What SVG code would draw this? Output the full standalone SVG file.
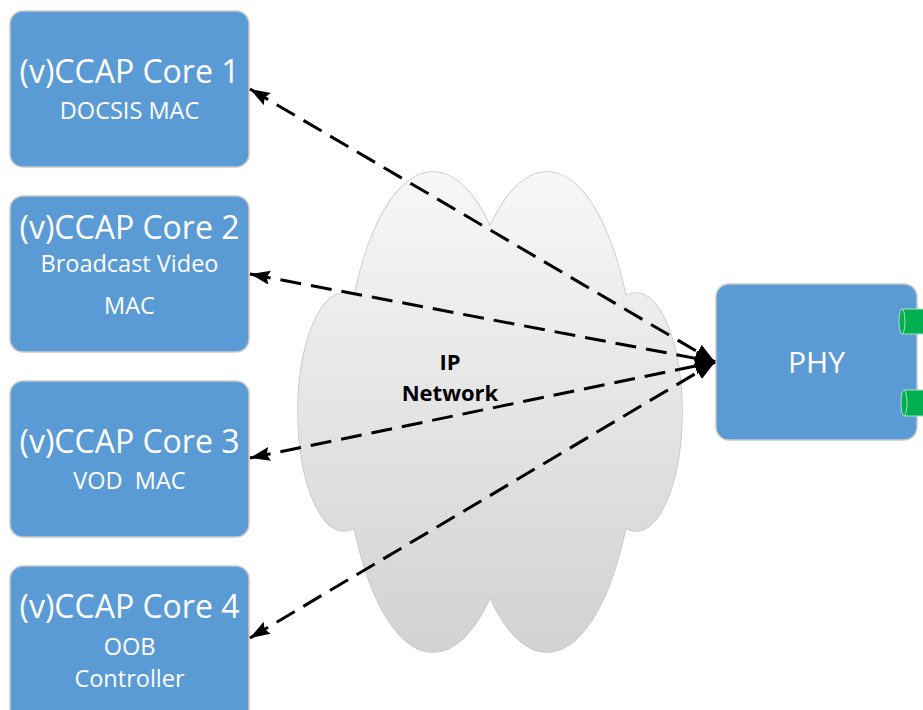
<svg xmlns="http://www.w3.org/2000/svg" width="923" height="710" viewBox="0 0 923 710">
<defs>
<linearGradient id="cloudGrad" gradientUnits="userSpaceOnUse" x1="0" y1="173" x2="0" y2="652">
<stop offset="0" stop-color="#f7f7f7"/>
<stop offset="1" stop-color="#d2d2d2"/>
</linearGradient>
<marker id="arr" markerUnits="userSpaceOnUse" markerWidth="22" markerHeight="16" refX="20" refY="7" orient="auto-start-reverse" viewBox="0 0 22 16">
<path d="M0,0 L20,7 L0,14 L3,7 z" fill="#000"/>
</marker>
<marker id="arrEnd" markerUnits="userSpaceOnUse" markerWidth="22" markerHeight="18" refX="20" refY="8" orient="auto" viewBox="0 0 22 18">
<path d="M0,0 L20,8 L0,16 z" fill="#000"/>
</marker>
<style>
.box{fill:#5b9bd5;stroke:#c9c9c9;stroke-width:1.5}
.title{font-family:"Open Sans","Noto Sans","DejaVu Sans",sans-serif;font-size:32px;fill:#fff;text-anchor:middle}
.sub{font-family:"Open Sans","Noto Sans","DejaVu Sans",sans-serif;font-size:23.5px;fill:#fff;text-anchor:middle}
.conn{fill:none;stroke:#000;stroke-width:3;stroke-dasharray:21 10;marker-start:url(#arr);marker-end:url(#arrEnd)}
.port{fill:#00b050;stroke:#a8e0bc;stroke-width:1}
.cl{fill:none;stroke:#c6c6c6;stroke-width:1.5}
.cf{fill:url(#cloudGrad);stroke:none}
.lbl{font-family:"Open Sans","Noto Sans","DejaVu Sans",sans-serif;font-size:22px;font-weight:bold;fill:#000;text-anchor:middle}
</style>
</defs>
<g id="cloud">
<ellipse class="cl" cx="433" cy="412" rx="90" ry="240"/>
<ellipse class="cl" cx="547" cy="412" rx="90" ry="240"/>
<ellipse class="cl" cx="344" cy="412" rx="46" ry="119"/>
<ellipse class="cl" cx="636" cy="412" rx="46" ry="119"/>
<ellipse class="cf" cx="433" cy="412" rx="90" ry="240"/>
<ellipse class="cf" cx="547" cy="412" rx="90" ry="240"/>
<ellipse class="cf" cx="344" cy="412" rx="46" ry="119"/>
<ellipse class="cf" cx="636" cy="412" rx="46" ry="119"/>
<text class="lbl" x="450" y="370">IP</text>
<text class="lbl" x="450" y="401">Network</text>
</g>
<g id="core1">
<rect class="box" x="10" y="11" width="239" height="156" rx="13"/>
<text class="title" x="129.5" y="83">(v)CCAP Core 1</text>
<text class="sub" x="129.5" y="119">DOCSIS MAC</text>
</g>
<g id="core2">
<rect class="box" x="10" y="196" width="239" height="156" rx="13"/>
<text class="title" x="129.5" y="239">(v)CCAP Core 2</text>
<text class="sub" x="129.5" y="272">Broadcast Video</text>
<text class="sub" x="129.5" y="314">MAC</text>
</g>
<g id="core3">
<rect class="box" x="10" y="381" width="239" height="156" rx="13"/>
<text class="title" x="129.5" y="453">(v)CCAP Core 3</text>
<text class="sub" x="129.5" y="489" xml:space="preserve">VOD  MAC</text>
</g>
<g id="core4">
<rect class="box" x="10" y="566" width="239" height="156" rx="13"/>
<text class="title" x="129.5" y="618">(v)CCAP Core 4</text>
<text class="sub" x="129.5" y="655">OOB</text>
<text class="sub" x="129.5" y="687">Controller</text>
</g>
<g id="phy">
<rect class="box" x="716" y="284" width="201" height="156" rx="13"/>
<text class="title" x="816.5" y="373" style="font-size:30px">PHY</text>
<rect class="port" x="902" y="309" width="30" height="25"/>
<ellipse class="port" cx="902" cy="321.5" rx="3" ry="12.5"/>
<rect class="port" x="904" y="390" width="30" height="26"/>
<ellipse class="port" cx="904" cy="403" rx="3" ry="13"/>
</g>
<g id="connectors">
<line class="conn" x1="250" y1="89" x2="715" y2="362"/>
<line class="conn" x1="250" y1="274" x2="715" y2="362"/>
<line class="conn" x1="250" y1="458" x2="715" y2="362"/>
<line class="conn" x1="250" y1="638" x2="715" y2="362"/>
</g>
</svg>
